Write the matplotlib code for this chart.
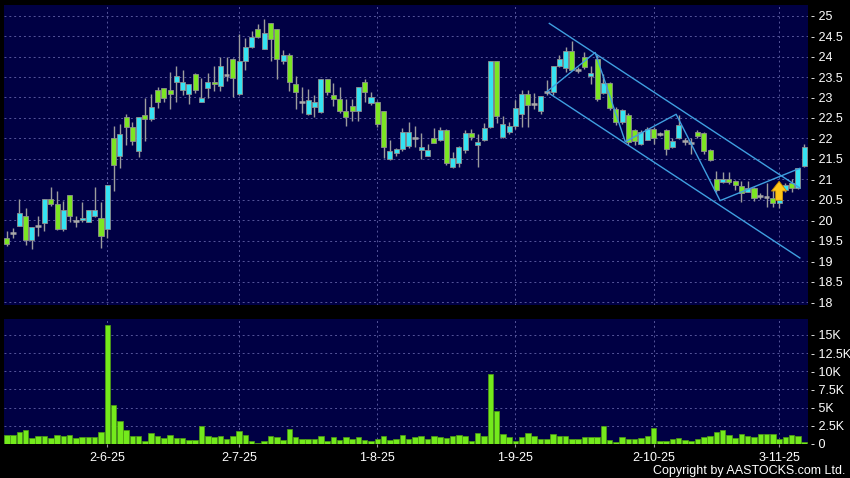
import matplotlib
matplotlib.use("Agg")
import matplotlib.pyplot as plt
import numpy as np

plt.rcParams["font.family"] = ["Liberation Sans", "DejaVu Sans"]

# daily candles, oldest first (price in HKD)
opens = [19.57, 19.70, 19.85, 20.10, 19.53, 19.85, 19.93, 20.52, 20.40, 19.79,
         20.61, 19.99, 20.01, 19.97, 20.11, 20.05, 19.79, 22.00, 21.58, 22.52,
         22.28, 21.70, 22.57, 22.47, 23.18, 23.23, 23.18, 23.39, 23.18, 23.08,
         23.57, 22.88, 23.23, 23.39, 23.27, 23.56, 23.94, 23.08, 23.90, 24.24,
         24.67, 24.19, 24.81, 24.67, 23.90, 24.04, 23.33, 22.88, 22.60, 22.76,
         22.64, 23.45, 23.06, 22.96, 22.68, 22.80, 22.68, 23.39, 22.86, 22.90,
         22.68, 21.49, 21.64, 21.73, 21.82, 22.00, 21.72, 21.58, 22.00, 21.96,
         22.21, 21.29, 21.41, 21.72, 22.14, 21.84, 21.95, 22.27, 23.90, 22.03,
         22.16, 22.30, 22.60, 23.09, 22.83, 22.67, 23.14, 23.14, 23.77, 23.73,
         24.14, 23.68, 23.98, 23.52, 23.93, 23.11, 23.36, 22.73, 22.39, 22.58,
         22.21, 21.87, 21.97, 22.24, 22.12, 22.20, 21.79, 22.02, 21.93, 21.89,
         22.16, 22.13, 21.72, 21.00, 20.93, 21.02, 20.97, 20.84, 20.70, 20.80,
         20.59, 20.58, 20.54, 20.43, 20.75, 20.90, 20.78, 21.33]
highs = [19.73, 19.81, 20.52, 20.30, 19.83, 20.10, 20.52, 20.81, 20.72, 20.46,
         20.61, 20.11, 20.44, 20.24, 20.81, 20.44, 20.86, 22.31, 22.35, 22.60,
         22.40, 22.52, 22.99, 23.08, 23.25, 23.23, 23.63, 23.78, 23.67, 23.33,
         23.60, 23.48, 23.59, 23.78, 23.98, 23.98, 23.96, 24.54, 24.45, 24.63,
         24.80, 24.92, 24.81, 24.67, 24.17, 24.08, 23.53, 23.25, 23.20, 23.06,
         23.45, 23.46, 23.35, 23.25, 22.96, 22.96, 23.25, 23.45, 23.14, 22.92,
         22.68, 21.95, 21.76, 22.25, 22.41, 22.30, 22.14, 21.86, 22.25, 22.27,
         22.22, 21.67, 21.82, 22.21, 22.22, 22.12, 22.38, 23.90, 23.90, 22.55,
         22.40, 22.93, 23.18, 23.18, 23.10, 23.04, 23.42, 23.77, 24.04, 24.24,
         24.38, 23.75, 24.11, 23.78, 24.04, 23.58, 23.38, 22.76, 22.72, 22.62,
         22.23, 22.20, 22.29, 22.28, 22.16, 22.22, 22.00, 22.57, 22.00, 22.00,
         22.20, 22.16, 21.75, 21.21, 21.19, 21.19, 20.99, 20.97, 20.97, 20.82,
         20.67, 20.92, 20.74, 20.70, 20.90, 21.00, 21.27, 21.87]
lows = [19.36, 19.57, 19.85, 19.40, 19.30, 19.62, 19.75, 20.34, 19.76, 19.73,
        19.95, 19.83, 19.97, 19.95, 20.08, 19.32, 19.57, 20.71, 21.28, 21.85,
        21.85, 21.55, 21.94, 22.43, 22.74, 22.88, 22.73, 22.88, 23.05, 22.84,
        23.10, 22.88, 22.99, 23.17, 23.17, 23.41, 23.02, 23.06, 23.66, 24.22,
        24.45, 24.19, 23.90, 23.45, 23.82, 23.17, 22.73, 22.63, 22.58, 22.53,
        22.62, 23.06, 22.80, 22.63, 22.30, 22.43, 22.43, 22.90, 22.82, 22.29,
        21.51, 21.47, 21.57, 21.70, 21.76, 21.78, 21.49, 21.56, 21.88, 21.93,
        21.35, 21.27, 21.31, 21.64, 21.96, 21.29, 21.93, 22.25, 22.37, 22.00,
        22.12, 22.24, 22.28, 22.28, 22.73, 22.60, 23.05, 23.06, 23.75, 23.63,
        23.66, 23.60, 23.70, 23.34, 22.91, 23.08, 22.70, 22.33, 22.35, 21.85,
        21.83, 21.84, 21.95, 21.86, 22.06, 21.59, 21.76, 21.98, 21.83, 21.62,
        22.00, 21.62, 21.44, 20.68, 20.90, 20.88, 20.74, 20.45, 20.68, 20.46,
        20.51, 20.33, 20.33, 20.29, 20.70, 20.70, 20.76, 21.30]
closes = [19.42, 19.70, 20.19, 19.53, 19.83, 19.85, 20.52, 20.40, 19.79, 20.26,
          20.11, 19.99, 20.06, 20.24, 20.24, 19.62, 20.86, 21.34, 22.10, 22.29,
          21.94, 22.52, 22.47, 22.78, 22.88, 22.99, 23.08, 23.52, 23.39, 23.33,
          23.18, 22.99, 23.39, 23.33, 23.78, 23.56, 23.48, 23.90, 24.24, 24.49,
          24.49, 24.57, 24.43, 23.94, 24.04, 23.39, 23.13, 22.88, 22.94, 22.90,
          23.45, 23.14, 22.96, 22.68, 22.53, 22.68, 23.25, 23.14, 23.00, 22.35,
          21.80, 21.69, 21.74, 22.15, 22.15, 22.00, 21.80, 21.72, 21.90, 22.21,
          21.41, 21.51, 21.80, 22.14, 22.04, 21.92, 22.26, 23.90, 22.55, 22.35,
          22.30, 22.74, 23.09, 22.81, 22.83, 23.04, 23.14, 23.77, 23.93, 24.14,
          23.68, 23.68, 23.75, 23.61, 22.97, 23.36, 22.75, 22.39, 22.69, 21.91,
          21.93, 22.16, 22.22, 22.02, 22.12, 21.73, 21.93, 22.32, 21.93, 21.89,
          22.05, 21.69, 21.48, 20.74, 21.02, 20.93, 20.86, 20.66, 20.78, 20.54,
          20.59, 20.58, 20.43, 20.70, 20.85, 20.80, 21.27, 21.79]
# volume in thousands of shares
volumes = [1.2, 1.3, 1.6, 1.9, 0.8, 1.06, 1.06, 0.8, 1.3, 1.1,
           1.3, 0.8, 1.0, 0.9, 0.9, 1.7, 16.4, 5.3, 3.1, 1.9,
           1.15, 1.15, 0.4, 1.5, 1.1, 0.8, 1.25, 0.8, 0.8, 0.5,
           0.55, 2.5, 1.06, 0.9, 1.15, 0.75, 1.15, 1.85, 1.25, 0.45,
           0.2, 0.35, 1.15, 0.9, 0.5, 2.1, 1.0, 0.65, 0.65, 0.7,
           1.15, 0.45, 0.9, 0.6, 0.9, 0.75, 0.9, 0.6, 0.45, 0.7,
           1.15, 0.5, 0.7, 1.3, 0.65, 0.9, 1.1, 0.65, 1.1, 0.92,
           0.83, 1.1, 1.2, 1.1, 0.37, 1.52, 1.15, 9.62, 4.56, 1.38,
           1.01, 0.46, 1.01, 1.47, 1.1, 0.69, 0.69, 1.38, 1.06, 1.1,
           0.64, 0.69, 1.01, 0.97, 0.97, 2.53, 0.51, 0.28, 0.92, 0.74,
           0.74, 0.78, 1.1, 2.16, 0.46, 0.46, 0.69, 0.78, 0.6, 0.46,
           0.69, 0.92, 1.1, 1.7, 1.89, 1.29, 0.78, 1.33, 1.1, 0.97,
           1.43, 1.38, 1.33, 0.74, 0.92, 1.24, 1.06, 0.28]

date_ticks = [16, 37, 59, 81, 103, 123]
date_labels = ["2-6-25", "2-7-25", "1-8-25", "1-9-25", "2-10-25", "3-11-25"]
price_ticks = [18, 18.5, 19, 19.5, 20, 20.5, 21, 21.5, 22, 22.5, 23, 23.5, 24, 24.5, 25]
vol_ticks = [0, 2.5, 5, 7.5, 10, 12.5, 15]
vol_labels = ["0", "2.5K", "5K", "7.5K", "10K", "12.5K", "15K"]

# drawn channel and zigzag (index, price)
channel_x = [86.4, 126.3]
channel_top = [24.81, 20.79]
channel_bot = [23.10, 19.08]
zigzag_x = [86.0, 93.7, 98.5, 106.6, 113.6, 126.3]
zigzag_y = [23.14, 24.10, 21.92, 22.59, 20.48, 21.27]
signal_idx, signal_low, signal_high = 123, 20.42, 21.02

UP = "#35e3f2"
DOWN = "#7ce623"
FLAT = "#a8a8a8"
PANEL = "#000044"
GRID = "#55559a"
TXT = "white"

o = np.array(opens)
c = np.array(closes)
x = np.arange(len(o))
cols = np.where(c > o, UP, np.where(c < o, DOWN, FLAT))

fig = plt.figure(figsize=(8.5, 4.78), dpi=100, facecolor="black")
ax = fig.add_axes([4 / 850, 1 - 305 / 478, 804 / 850, 300 / 478])
axv = fig.add_axes([4 / 850, 1 - 444 / 478, 804 / 850, 125 / 478])

for a in (ax, axv):
    a.set_facecolor(PANEL)
    for s in a.spines.values():
        s.set_visible(False)
    a.set_xlim(-0.45, 127.6)
    a.yaxis.tick_right()
    a.set_xticks(date_ticks)
    a.grid(True, color=GRID, linestyle=(0, (2, 3)), linewidth=0.7)
    a.set_axisbelow(True)
    a.tick_params(axis="y", length=0, pad=2, labelcolor=TXT, labelsize=9)

# price panel
ax.vlines(x, lows, highs, color="#9c9c9c", linewidth=1, zorder=2)
body = np.abs(c - o)
flat = body == 0
ax.bar(x[~flat], body[~flat], bottom=np.minimum(o, c)[~flat], width=0.8,
       color=cols[~flat], edgecolor="#8f8f8f", linewidth=0.6, zorder=3)
ax.hlines(c[flat], x[flat] - 0.45, x[flat] + 0.45, color=FLAT, linewidth=1.8, zorder=3)

ax.plot(channel_x, channel_top, color="#3f9fe0", lw=1, zorder=4)
ax.plot(channel_x, channel_bot, color="#3f9fe0", lw=1, zorder=4)
ax.plot(zigzag_x, zigzag_y, color="#3f9fe0", lw=1, zorder=4)
ax.annotate("", xy=(signal_idx, signal_high), xytext=(signal_idx, signal_low),
            arrowprops=dict(arrowstyle="simple,head_width=1.1,head_length=0.7,tail_width=0.5",
                            fc="#ffc61a", ec="#c88a00", lw=0.6), zorder=5)

ax.set_ylim(17.93, 25.26)
ax.set_yticks(price_ticks)
ax.set_yticklabels(["- " + ("%g" % v) for v in price_ticks])
ax.tick_params(axis="x", length=0, labelbottom=False)

# volume panel
axv.bar(x, volumes, width=0.88, color="#74ea1c", edgecolor="#4f9e12", linewidth=0.5, zorder=3)
axv.set_ylim(0, 17.2)
axv.set_yticks(vol_ticks)
axv.set_yticklabels(["- " + s for s in vol_labels])
axv.set_xticklabels(date_labels)
axv.tick_params(axis="x", length=2.5, width=0.8, color="#9a9a9a", pad=3,
                labelcolor=TXT, labelsize=9)

fig.text(0.994, 0.0146, "Copyright by AASTOCKS.com Ltd.", ha="right", va="center",
         color=TXT, fontsize=9)

fig.savefig("out.png", dpi=100, facecolor="black")
